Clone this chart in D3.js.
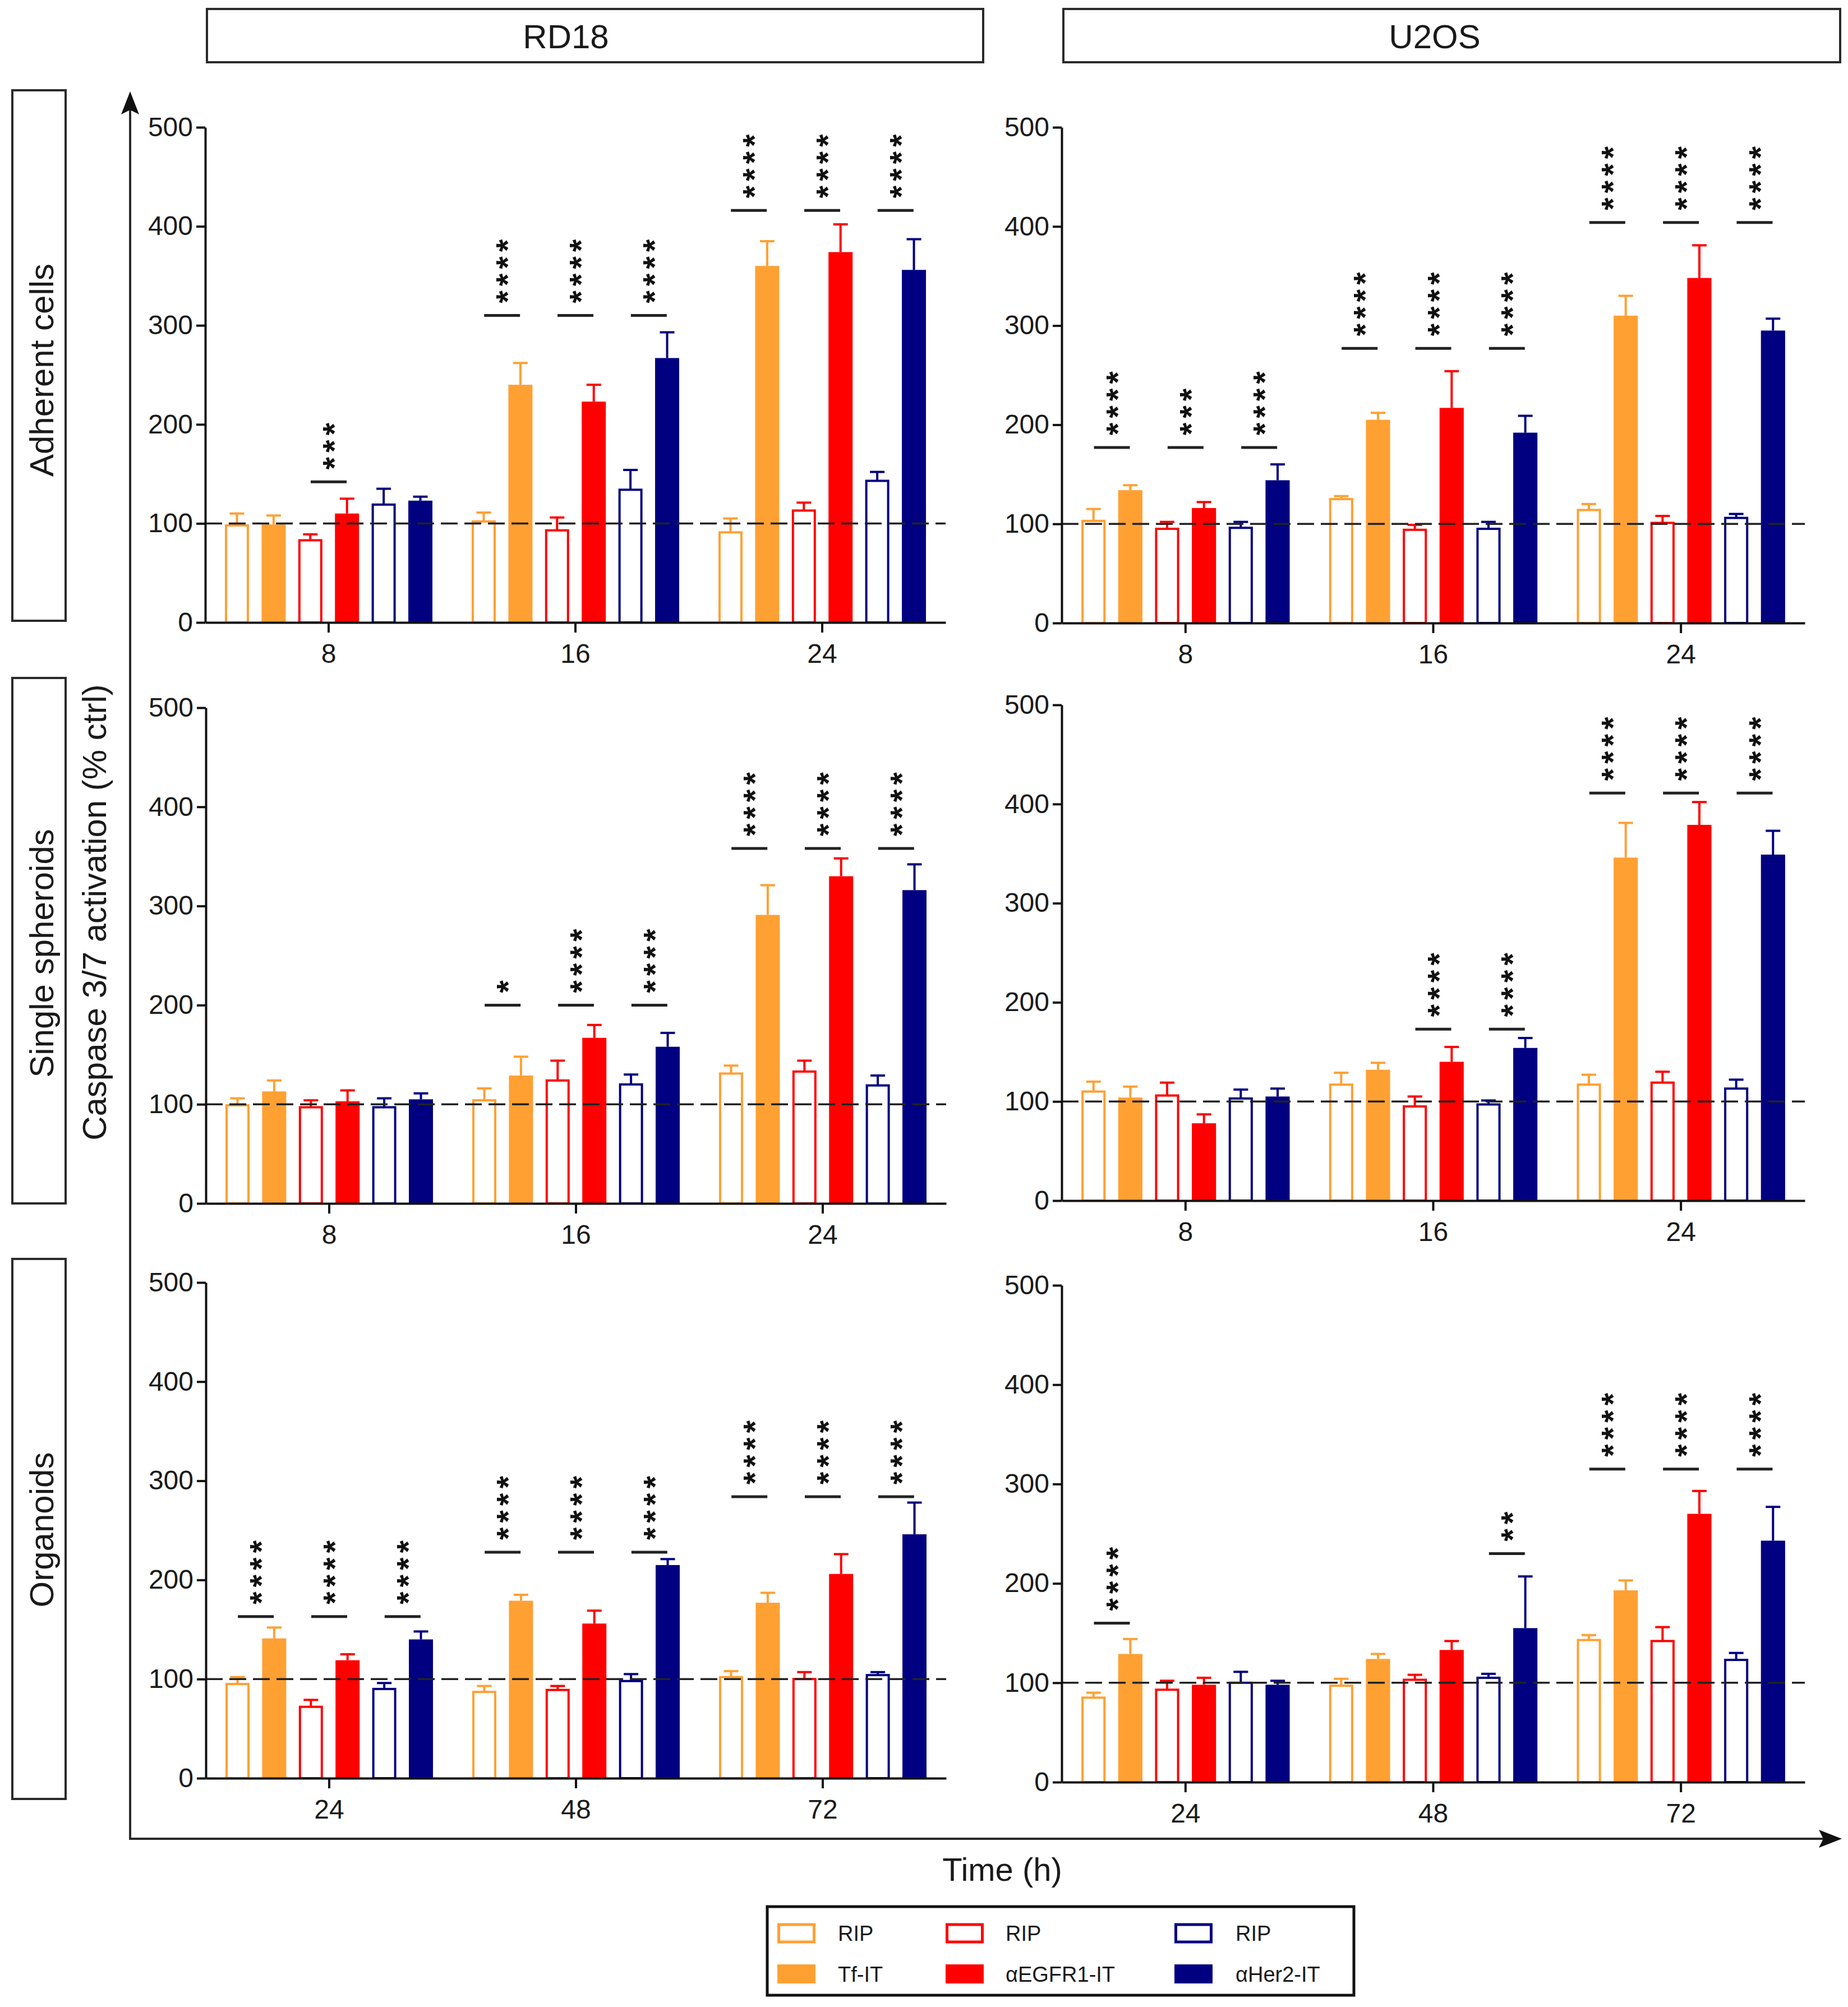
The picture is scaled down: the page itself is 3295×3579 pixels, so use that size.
<!DOCTYPE html>
<html><head><meta charset="utf-8">
<script src="https://cdn.jsdelivr.net/npm/d3@7"></script>
<style>html,body{margin:0;padding:0;background:#fff}</style>
</head><body>
<script>
// ---------------- DATA ----------------
const cellLines = ["RD18", "U2OS"];
const models = ["Adherent cells", "Single spheroids", "Organoids"];
const timesEarly = ["8", "16", "24"];
const timesOrganoid = ["24", "48", "72"];
const yTicks = [0, 100, 200, 300, 400, 500];
const seriesNames = ["RIP (Tf)", "Tf-IT", "RIP (EGFR1)", "αEGFR1-IT", "RIP (Her2)", "αHer2-IT"];
const legendLabels = ["RIP", "Tf-IT", "RIP", "αEGFR1-IT", "RIP", "αHer2-IT"];
const seriesColors = ["#FFA033", "#FFA033", "#FF0000", "#FF0000", "#000080", "#000080"];
const seriesFilled = [false, true, false, true, false, true];

// RD18 – adherent cells
const rd18AdherentVals = [[98, 99, 83, 110, 119, 123], [102, 240, 93, 223, 134, 267], [91, 360, 113, 374, 143, 356]];
const rd18AdherentErr  = [[12, 9, 6, 15, 16, 4], [9, 22, 13, 17, 20, 26], [14, 25, 8, 28, 9, 31]];
const rd18AdherentSig  = [[null, "***", null], ["****", "****", "****"], ["****", "****", "****"]];
const rd18AdherentSigAt = [142, 310, 416];
// U2OS – adherent cells
const u2osAdherentVals = [[103, 134, 95, 116, 96, 144], [125, 205, 94, 217, 95, 192], [114, 310, 101, 348, 106, 295]];
const u2osAdherentErr  = [[12, 5, 7, 6, 6, 16], [3, 7, 5, 37, 7, 17], [6, 20, 7, 33, 4, 12]];
const u2osAdherentSig  = [["****", "***", "****"], ["****", "****", "****"], ["****", "****", "****"]];
const u2osAdherentSigAt = [177, 277, 404];
// RD18 – single spheroids
const rd18SpheroidVals = [[99, 113, 97, 103, 97, 105], [104, 129, 124, 167, 120, 158], [131, 291, 133, 330, 119, 316]];
const rd18SpheroidErr  = [[7, 11, 7, 11, 9, 6], [12, 19, 20, 13, 10, 14], [8, 30, 11, 18, 10, 26]];
const rd18SpheroidSig  = [[null, null, null], ["*", "****", "****"], ["****", "****", "****"]];
const rd18SpheroidSigAt = [0, 200, 358];
// U2OS – single spheroids
const u2osSpheroidVals = [[110, 104, 106, 78, 103, 105], [117, 132, 95, 140, 97, 154], [117, 346, 119, 379, 113, 349]];
const u2osSpheroidErr  = [[10, 11, 13, 9, 9, 8], [12, 7, 10, 15, 4, 10], [10, 35, 11, 23, 9, 24]];
const u2osSpheroidSig  = [[null, null, null], [null, "****", "****"], ["****", "****", "****"]];
const u2osSpheroidSigAt = [0, 173, 411];
// RD18 – organoids
const rd18OrganoidVals = [[95, 141, 72, 119, 90, 140], [87, 179, 89, 156, 98, 215], [102, 177, 100, 206, 104, 246]];
const rd18OrganoidErr  = [[7, 11, 7, 6, 6, 8], [6, 6, 4, 13, 7, 6], [6, 10, 7, 20, 3, 32]];
const rd18OrganoidSig  = [["****", "****", "****"], ["****", "****", "****"], ["****", "****", "****"]];
const rd18OrganoidSigAt = [163, 228, 284];
// U2OS – organoids
const u2osOrganoidVals = [[85, 129, 93, 98, 100, 98], [97, 124, 103, 133, 105, 155], [143, 193, 142, 270, 123, 243]];
const u2osOrganoidErr  = [[5, 15, 9, 7, 11, 4], [7, 5, 5, 9, 4, 52], [5, 10, 14, 23, 7, 34]];
const u2osOrganoidSig  = [["****", null, null], [null, null, "**"], ["****", "****", "****"]];
const u2osOrganoidSigAt = [160, 230, 315];

// ---------------- LAYOUT ----------------
const W = 3295, H = 3579;
const FONT = "'Liberation Sans', Arial, Helvetica, sans-serif";
const ink = "#1a1a1a";

const panels = [
  {x0: 366, x1: 1686, yTop: 227, yBot: 1110, times: timesEarly, vals: rd18AdherentVals, err: rd18AdherentErr, sig: rd18AdherentSig, sigAt: rd18AdherentSigAt},
  {x0: 1893, x1: 3218, yTop: 227, yBot: 1111, times: timesEarly, vals: u2osAdherentVals, err: u2osAdherentErr, sig: u2osAdherentSig, sigAt: u2osAdherentSigAt},
  {x0: 367, x1: 1687, yTop: 1262, yBot: 2146, times: timesEarly, vals: rd18SpheroidVals, err: rd18SpheroidErr, sig: rd18SpheroidSig, sigAt: rd18SpheroidSigAt},
  {x0: 1893, x1: 3218, yTop: 1257, yBot: 2141, times: timesEarly, vals: u2osSpheroidVals, err: u2osSpheroidErr, sig: u2osSpheroidSig, sigAt: u2osSpheroidSigAt},
  {x0: 367, x1: 1687, yTop: 2287, yBot: 3171, times: timesOrganoid, vals: rd18OrganoidVals, err: rd18OrganoidErr, sig: rd18OrganoidSig, sigAt: rd18OrganoidSigAt},
  {x0: 1893, x1: 3218, yTop: 2292, yBot: 3178, times: timesOrganoid, vals: u2osOrganoidVals, err: u2osOrganoidErr, sig: u2osOrganoidSig, sigAt: u2osOrganoidSigAt}
];

const svg = d3.select("body").append("svg")
  .attr("width", W).attr("height", H)
  .attr("viewBox", `0 0 ${W} ${H}`)
  .style("display", "block")
  .style("font-family", FONT);
svg.append("rect").attr("width", W).attr("height", H).attr("fill", "#fff");

// ---------------- HEADERS ----------------
const headerBoxes = [{x: 369, w: 1384, tx: 1009}, {x: 1896, w: 1385, tx: 2558}];
cellLines.forEach((name, i) => {
  const b = headerBoxes[i];
  svg.append("rect").attr("x", b.x).attr("y", 16).attr("width", b.w).attr("height", 95)
    .attr("fill", "#fff").attr("stroke", "#2a2a2a").attr("stroke-width", 4);
  svg.append("text").attr("x", b.tx).attr("y", 86).attr("text-anchor", "middle")
    .attr("font-size", 60).attr("fill", ink).text(name);
});

// ---------------- ROW LABELS ----------------
const rowBoxes = [{y: 161, h: 946, cy: 660}, {y: 1209, h: 937, cy: 1700}, {y: 2245, h: 963, cy: 2728}];
models.forEach((name, i) => {
  const b = rowBoxes[i];
  svg.append("rect").attr("x", 22).attr("y", b.y).attr("width", 95).attr("height", b.h)
    .attr("fill", "#fff").attr("stroke", "#2a2a2a").attr("stroke-width", 4);
  svg.append("text").attr("transform", `translate(95,${b.cy}) rotate(-90)`)
    .attr("text-anchor", "middle").attr("font-size", 60).attr("fill", ink).text(name);
});

// ---------------- BIG AXES ----------------
svg.append("line").attr("x1", 232).attr("y1", 3279).attr("x2", 232).attr("y2", 195)
  .attr("stroke", "#2a2a2a").attr("stroke-width", 4);
svg.append("path").attr("d", "M232,163 L216,204 L232,196 L248,204 Z").attr("fill", "#111");
svg.append("line").attr("x1", 230).attr("y1", 3279).attr("x2", 3252).attr("y2", 3279)
  .attr("stroke", "#2a2a2a").attr("stroke-width", 4);
svg.append("path").attr("d", "M3284,3279 L3243,3263 L3251,3279 L3243,3295 Z").attr("fill", "#111");

svg.append("text").attr("transform", "translate(189,1627) rotate(-90)")
  .attr("text-anchor", "middle").attr("font-size", 60).attr("fill", ink)
  .text("Caspase 3/7 activation (% ctrl)");
svg.append("text").attr("x", 1787).attr("y", 3354).attr("text-anchor", "middle")
  .attr("font-size", 58).attr("fill", ink).text("Time (h)");

// ---------------- PANELS ----------------
const STAR = 58, STEP = 30.5;
panels.forEach(p => {
  const g = svg.append("g");
  const x = d3.scaleBand().domain(p.times).range([p.x0, p.x1]).paddingInner(0).paddingOuter(0);
  const xs = d3.scaleBand().domain(d3.range(seriesNames.length)).range([0, x.bandwidth()])
    .paddingInner(0.343).paddingOuter(0.535);
  const y = d3.scaleLinear().domain([0, 500]).range([p.yBot, p.yTop]);
  const bw = xs.bandwidth();

  p.times.forEach((t, gi) => {
    const gx = x(t);
    p.vals[gi].forEach((v, si) => {
      const bx = gx + xs(si);
      const col = seriesColors[si];
      const cx = bx + bw / 2;
      // error bar (upward)
      const ye = y(v + p.err[gi][si]);
      g.append("line").attr("x1", cx).attr("x2", cx).attr("y1", y(v)).attr("y2", ye)
        .attr("stroke", col).attr("stroke-width", 4);
      g.append("line").attr("x1", cx - 13).attr("x2", cx + 13).attr("y1", ye).attr("y2", ye)
        .attr("stroke", col).attr("stroke-width", 4);
      // bar
      if (seriesFilled[si]) {
        g.append("rect").attr("x", bx).attr("y", y(v)).attr("width", bw).attr("height", y(0) - y(v))
          .attr("fill", col);
      } else {
        g.append("rect").attr("x", bx + 2).attr("y", y(v)).attr("width", bw - 4).attr("height", y(0) - y(v))
          .attr("fill", "#fff").attr("stroke", col).attr("stroke-width", 4);
      }
    });
    // significance: line + vertically stacked asterisks (one rotated text)
    p.sig[gi].forEach((s, k) => {
      if (!s) return;
      const cx = gx + (xs(2 * k) + xs(2 * k + 1) + bw) / 2;
      const ly = y(p.sigAt[gi]);
      g.append("line").attr("x1", cx - 32).attr("x2", cx + 32).attr("y1", ly).attr("y2", ly)
        .attr("stroke", "#222").attr("stroke-width", 5);
      const adv = 0.389 * STAR;
      const tx = cx + 0.52 * STAR;
      const ty = ly - 37 + STEP / 2;
      g.append("text")
        .attr("transform", `translate(${tx},${ty}) rotate(-90)`)
        .attr("text-anchor", "start")
        .attr("letter-spacing", STEP - adv)
        .attr("font-size", STAR).attr("font-weight", "bold").attr("fill", "#111")
        .text(s);
    });
  });

  // dashed reference line at 100
  g.append("line").attr("x1", p.x0).attr("x2", p.x1).attr("y1", y(100)).attr("y2", y(100))
    .attr("stroke", "#222").attr("stroke-width", 3.5).attr("stroke-dasharray", "30,12");

  // axes
  const ax = g.append("g").attr("transform", `translate(${p.x0},0)`)
    .call(d3.axisLeft(y).tickValues(yTicks).tickSize(16).tickSizeOuter(0).tickPadding(6));
  const bx = g.append("g").attr("transform", `translate(0,${p.yBot})`)
    .call(d3.axisBottom(x).tickSize(18).tickSizeOuter(0).tickPadding(20));
  [ax, bx].forEach(a => {
    a.select(".domain").attr("stroke", "#111").attr("stroke-width", 4);
    a.selectAll(".tick line").attr("stroke", "#111").attr("stroke-width", 4);
    a.selectAll(".tick text").attr("font-size", 48).attr("font-family", FONT).attr("fill", ink);
  });
});

// ---------------- LEGEND ----------------
const lg = svg.append("g");
lg.append("rect").attr("x", 1368).attr("y", 3400).attr("width", 1046).attr("height", 158)
  .attr("fill", "#fff").attr("stroke", "#111").attr("stroke-width", 5);
const legendCols = [{sx: 1386, tx: 1494}, {sx: 1686, tx: 1793}, {sx: 2094, tx: 2203}];
const legendRows = [3447, 3520];
seriesNames.forEach((n, i) => {
  const c = legendCols[Math.floor(i / 2)];
  const ry = legendRows[i % 2];
  if (seriesFilled[i]) {
    lg.append("rect").attr("x", c.sx).attr("y", ry - 17).attr("width", 68).attr("height", 34)
      .attr("fill", seriesColors[i]);
  } else {
    lg.append("rect").attr("x", c.sx + 2.5).attr("y", ry - 15).attr("width", 63).attr("height", 31)
      .attr("fill", "#fff").attr("stroke", seriesColors[i]).attr("stroke-width", 5);
  }
  lg.append("text").attr("x", c.tx).attr("y", ry + 14).attr("font-size", 38).attr("fill", ink)
    .text(legendLabels[i]);
});
</script>
</body></html>
